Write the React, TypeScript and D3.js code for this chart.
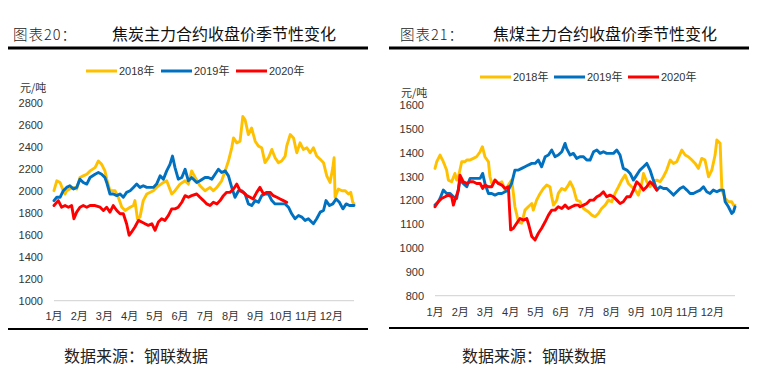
import React from 'react';
import * as d3 from 'd3';

const MONTHS = ['1月', '2月', '3月', '4月', '5月', '6月', '7月', '8月', '9月', '10月', '11月', '12月'];
const SERIES_NAMES = ['2018年', '2019年', '2020年'];
const COLORS = ['#FFC000', '#0070C0', '#FF0000'];

const COKE_TICKS = [1000, 1200, 1400, 1600, 1800, 2000, 2200, 2400, 2600, 2800];
const COAL_TICKS = [800, 900, 1000, 1100, 1200, 1300, 1400, 1500, 1600];

// [month position, price]
const COKE_2018: [number, number][] = [
  [0, 2000], [0.11, 2090], [0.24, 2075], [0.37, 2000], [0.44, 1970], [0.5, 2000], [0.63, 2015], [0.77, 2030],
  [0.9, 2015], [1.03, 2120], [1.16, 2135], [1.3, 2150], [1.43, 2180], [1.63, 2210], [1.76, 2270], [1.89, 2240],
  [2.02, 2180], [2.09, 2105], [2.22, 2000], [2.42, 2000], [2.55, 1940], [2.69, 1850], [2.82, 1820], [3.02, 1850],
  [3.15, 1865], [3.21, 1910], [3.31, 1745], [3.41, 1760], [3.54, 1910], [3.68, 1970], [3.94, 2000], [4.07, 2030],
  [4.34, 2075], [4.47, 2090], [4.67, 1970], [4.8, 2000], [5.0, 2060], [5.2, 2090], [5.33, 2060], [5.46, 2180],
  [5.6, 2120], [5.79, 2045], [5.99, 2000], [6.19, 2030], [6.32, 2000], [6.46, 2030], [6.65, 2090], [6.79, 2180],
  [6.92, 2270], [7.05, 2390], [7.12, 2480], [7.25, 2435], [7.38, 2450], [7.49, 2675], [7.58, 2645], [7.71, 2510],
  [7.84, 2570], [7.98, 2450], [8.11, 2405], [8.24, 2390], [8.37, 2255], [8.51, 2300], [8.64, 2375], [8.77, 2300],
  [8.9, 2255], [9.03, 2270], [9.17, 2315], [9.23, 2405], [9.37, 2510], [9.5, 2480], [9.63, 2345], [9.76, 2435],
  [9.89, 2375], [10.03, 2390], [10.16, 2345], [10.29, 2390], [10.42, 2315], [10.56, 2285], [10.69, 2255],
  [10.82, 2135], [10.95, 2075], [11.06, 2210], [11.11, 2300], [11.15, 1940], [11.28, 2015], [11.42, 2000],
  [11.55, 2000], [11.68, 1970], [11.77, 1985], [11.85, 1895], [11.9, 1880],
];
const COKE_2019: [number, number][] = [
  [0, 1910], [0.11, 1940], [0.24, 1940], [0.37, 2000], [0.5, 2030], [0.63, 2045], [0.77, 2015], [0.9, 2030],
  [1.03, 2105], [1.16, 2075], [1.3, 2060], [1.43, 2120], [1.63, 2150], [1.76, 2165], [1.89, 2150], [2.02, 2120],
  [2.09, 2075], [2.22, 1970], [2.35, 1970], [2.49, 1955], [2.62, 1970], [2.75, 1940], [2.88, 1985], [3.02, 2000],
  [3.15, 2030], [3.28, 2060], [3.41, 2030], [3.54, 2045], [3.68, 2030], [3.81, 2030], [3.94, 2030], [4.07, 2060],
  [4.21, 2135], [4.34, 2105], [4.47, 2180], [4.6, 2240], [4.7, 2315], [4.8, 2210], [4.93, 2105], [5.07, 2120],
  [5.2, 2195], [5.33, 2090], [5.46, 2120], [5.66, 2075], [5.79, 2090], [5.99, 2120], [6.12, 2120], [6.26, 2105],
  [6.39, 2150], [6.52, 2195], [6.65, 2165], [6.79, 2180], [6.92, 2135], [7.05, 2030], [7.18, 1940], [7.32, 2000],
  [7.45, 2000], [7.58, 1970], [7.71, 1880], [7.84, 1865], [7.98, 1910], [8.11, 1895], [8.24, 1955], [8.37, 1970],
  [8.51, 1970], [8.64, 1910], [8.77, 1880], [8.97, 1880], [9.17, 1880], [9.3, 1850], [9.43, 1790], [9.56, 1745],
  [9.7, 1775], [9.83, 1760], [9.96, 1730], [10.09, 1745], [10.22, 1715], [10.29, 1700], [10.42, 1745],
  [10.56, 1805], [10.69, 1820], [10.79, 1910], [10.93, 1865], [11.06, 1880], [11.19, 1925], [11.32, 1895],
  [11.46, 1835], [11.59, 1880], [11.72, 1865], [11.9, 1865],
];
const COKE_2020: [number, number][] = [
  [0, 1865], [0.17, 1910], [0.3, 1850], [0.44, 1865], [0.57, 1850], [0.7, 1865], [0.79, 1745], [0.9, 1805],
  [1.03, 1850], [1.16, 1865], [1.3, 1850], [1.43, 1865], [1.63, 1865], [1.83, 1850], [1.96, 1820], [2.09, 1850],
  [2.22, 1805], [2.35, 1865], [2.49, 1820], [2.62, 1790], [2.75, 1790], [2.88, 1700], [2.98, 1595], [3.08, 1625],
  [3.21, 1670], [3.35, 1730], [3.48, 1715], [3.61, 1700], [3.74, 1685], [3.88, 1700], [4.01, 1640], [4.14, 1715],
  [4.27, 1745], [4.4, 1730], [4.54, 1775], [4.67, 1835], [4.8, 1835], [4.93, 1850], [5.07, 1895], [5.2, 1955],
  [5.33, 1940], [5.46, 1955], [5.66, 1970], [5.79, 1940], [5.93, 1910], [6.06, 1880], [6.19, 1865], [6.32, 1895],
  [6.46, 1880], [6.59, 1910], [6.72, 1955], [6.85, 1985], [6.98, 1985], [7.12, 2015], [7.25, 2060], [7.38, 2000],
  [7.51, 1985], [7.65, 1955], [7.78, 1940], [7.9, 1925], [8.04, 1985], [8.17, 2030], [8.31, 1970], [8.44, 1985],
  [8.57, 1985], [8.7, 1955], [8.84, 1940], [8.97, 1925], [9.1, 1910], [9.23, 1895],
];

const COAL_2018: [number, number][] = [
  [0, 1334], [0.07, 1362], [0.2, 1390], [0.33, 1362], [0.46, 1327], [0.53, 1285], [0.66, 1278], [0.79, 1313],
  [0.86, 1285], [0.93, 1299], [1.06, 1362], [1.19, 1362], [1.26, 1369], [1.39, 1369], [1.52, 1376], [1.65, 1383],
  [1.79, 1404], [1.88, 1425], [1.98, 1383], [2.12, 1362], [2.18, 1299], [2.25, 1271], [2.38, 1285], [2.51, 1271],
  [2.65, 1278], [2.78, 1243], [2.91, 1264], [3.04, 1285], [3.11, 1229], [3.17, 1173], [3.31, 1110], [3.44, 1104],
  [3.57, 1159], [3.7, 1173], [3.84, 1187], [3.9, 1159], [4.03, 1201], [4.17, 1229], [4.3, 1250], [4.43, 1264],
  [4.56, 1257], [4.63, 1215], [4.7, 1180], [4.83, 1201], [4.89, 1229], [5.03, 1250], [5.16, 1243], [5.29, 1264],
  [5.36, 1278], [5.49, 1250], [5.62, 1201], [5.75, 1195], [5.89, 1166], [6.08, 1152], [6.22, 1138], [6.35, 1131],
  [6.48, 1145], [6.61, 1166], [6.75, 1180], [6.88, 1201], [7.01, 1194], [7.14, 1229], [7.28, 1257], [7.41, 1285],
  [7.54, 1306], [7.67, 1271], [7.8, 1257], [7.94, 1243], [8.07, 1222], [8.2, 1271], [8.27, 1313], [8.4, 1278],
  [8.53, 1257], [8.66, 1278], [8.8, 1285], [8.93, 1278], [9.06, 1299], [9.19, 1327], [9.33, 1369], [9.46, 1355],
  [9.59, 1362], [9.79, 1411], [9.92, 1390], [10.05, 1383], [10.19, 1369], [10.32, 1355], [10.45, 1334],
  [10.58, 1376], [10.71, 1369], [10.85, 1299], [10.98, 1327], [11.11, 1390], [11.18, 1453], [11.31, 1439],
  [11.38, 1243], [11.51, 1208], [11.64, 1194], [11.77, 1194], [11.84, 1180], [11.9, 1180],
];
const COAL_2019: [number, number][] = [
  [0, 1180], [0.13, 1194], [0.2, 1208], [0.33, 1243], [0.46, 1229], [0.6, 1229], [0.73, 1215], [0.86, 1208],
  [0.99, 1285], [1.12, 1271], [1.26, 1257], [1.39, 1292], [1.52, 1292], [1.65, 1292], [1.79, 1292], [1.89, 1313],
  [1.98, 1271], [2.12, 1229], [2.25, 1229], [2.38, 1222], [2.51, 1229], [2.65, 1229], [2.78, 1236], [2.91, 1243],
  [3.04, 1271], [3.17, 1327], [3.31, 1327], [3.44, 1334], [3.57, 1341], [3.7, 1348], [3.84, 1355], [3.97, 1355],
  [4.1, 1369], [4.23, 1341], [4.37, 1383], [4.5, 1390], [4.63, 1411], [4.76, 1383], [4.89, 1390], [5.03, 1404],
  [5.16, 1439], [5.22, 1418], [5.36, 1390], [5.49, 1397], [5.62, 1376], [5.75, 1383], [5.89, 1383], [6.02, 1369],
  [6.15, 1369], [6.29, 1404], [6.42, 1411], [6.55, 1397], [6.68, 1404], [6.81, 1397], [6.94, 1397], [7.08, 1397],
  [7.21, 1411], [7.34, 1390], [7.47, 1334], [7.61, 1327], [7.74, 1313], [7.87, 1285], [8.0, 1306], [8.13, 1327],
  [8.27, 1341], [8.4, 1355], [8.53, 1327], [8.66, 1285], [8.8, 1243], [8.93, 1257], [9.06, 1250], [9.19, 1250],
  [9.33, 1236], [9.46, 1222], [9.59, 1236], [9.72, 1250], [9.85, 1257], [9.99, 1243], [10.12, 1229],
  [10.25, 1229], [10.38, 1236], [10.52, 1243], [10.65, 1257], [10.78, 1236], [10.91, 1229], [11.04, 1243],
  [11.18, 1236], [11.31, 1243], [11.44, 1243], [11.51, 1194], [11.64, 1173], [11.77, 1145], [11.84, 1152],
  [11.9, 1173],
];
const COAL_2020: [number, number][] = [
  [0, 1173], [0.13, 1194], [0.26, 1208], [0.4, 1215], [0.53, 1222], [0.66, 1215], [0.73, 1180], [0.79, 1201],
  [0.93, 1243], [0.99, 1306], [1.12, 1278], [1.26, 1271], [1.39, 1278], [1.52, 1278], [1.65, 1271], [1.79, 1271],
  [1.89, 1250], [1.98, 1264], [2.12, 1257], [2.25, 1257], [2.38, 1285], [2.51, 1271], [2.65, 1264], [2.78, 1250],
  [2.91, 1257], [3.0, 1076], [3.11, 1083], [3.24, 1104], [3.37, 1124], [3.51, 1117], [3.64, 1124], [3.7, 1104],
  [3.84, 1048], [3.97, 1034], [4.1, 1062], [4.23, 1083], [4.37, 1110], [4.5, 1138], [4.63, 1159], [4.76, 1159],
  [4.89, 1173], [5.03, 1166], [5.16, 1180], [5.29, 1166], [5.42, 1173], [5.56, 1180], [5.69, 1180], [5.75, 1173],
  [5.89, 1180], [6.02, 1187], [6.15, 1201], [6.29, 1201], [6.42, 1215], [6.55, 1222], [6.68, 1236], [6.81, 1215],
  [6.94, 1222], [7.08, 1215], [7.21, 1201], [7.34, 1187], [7.47, 1194], [7.61, 1215], [7.74, 1215], [7.87, 1243],
  [8.0, 1278], [8.13, 1264], [8.27, 1243], [8.4, 1257], [8.53, 1278], [8.66, 1264], [8.8, 1243],
];

const SANS = "'Liberation Sans', 'Noto Sans CJK SC', sans-serif";
const CJK = "'Noto Sans CJK SC', sans-serif";

type PanelProps = {
  label: string;
  title: string;
  ticks: number[];
  series: [number, number][][];
  frame: { left: number; right: number; plotL: number; plotR: number; yTop: number; yBot: number };
  labelX: number;
  titleX: number;
  legendX: number;
  legendStep: number;
  legendY: number;
  unitX: number;
  unitY: number;
  tickRight: number;
  xLabelY: number;
  ruleBottomY: number;
  sourceX: number;
};

function Panel(p: PanelProps) {
  const { frame } = p;
  const x = d3.scaleLinear().domain([0, 11.9]).range([frame.plotL, frame.plotR]);
  const y = d3
    .scaleLinear()
    .domain([p.ticks[0], p.ticks[p.ticks.length - 1]])
    .range([frame.yBot, frame.yTop]);
  const line = d3
    .line<[number, number]>()
    .x((d) => x(d[0]))
    .y((d) => y(d[1]));
  return (
    <g>
      <text
        x={p.labelX}
        y={33}
        dominantBaseline="central"
        fontFamily={CJK}
        fontSize={14.5}
        fontWeight={300}
        letterSpacing={1}
        fill="#222"
      >
        {p.label}
      </text>
      <text x={p.titleX} y={33} dominantBaseline="central" fontFamily={CJK} fontSize={16} fill="#111">
        {p.title}
      </text>
      <line x1={frame.left} x2={frame.right} y1={48} y2={48} stroke="#000" strokeWidth={3} />
      {SERIES_NAMES.map((name, i) => (
        <g key={name}>
          <line
            x1={p.legendX + i * p.legendStep}
            x2={p.legendX + i * p.legendStep + 31}
            y1={p.legendY}
            y2={p.legendY}
            stroke={COLORS[i]}
            strokeWidth={3}
          />
          <text
            x={p.legendX + i * p.legendStep + 33}
            y={p.legendY}
            dominantBaseline="central"
            fontFamily={SANS}
            fontSize={11}
            fill="#333"
          >
            {name}
          </text>
        </g>
      ))}
      <text x={p.unitX} y={p.unitY} dominantBaseline="central" fontFamily={CJK} fontSize={11} fill="#333">
        元/吨
      </text>
      {p.ticks.map((t) => (
        <text
          key={t}
          x={p.tickRight}
          y={y(t)}
          textAnchor="end"
          dominantBaseline="central"
          fontFamily={SANS}
          fontSize={11}
          fill="#333"
        >
          {t}
        </text>
      ))}
      <line
        x1={frame.plotL}
        x2={frame.plotR}
        y1={y(p.ticks[0])}
        y2={y(p.ticks[0])}
        stroke="#d9d9d9"
        strokeWidth={1.2}
      />
      {MONTHS.map((m, i) => (
        <text
          key={m}
          x={x(i)}
          y={p.xLabelY}
          textAnchor="middle"
          dominantBaseline="central"
          fontFamily={SANS}
          fontSize={11}
          fill="#333"
        >
          {m}
        </text>
      ))}
      {p.series.map((s, i) => (
        <path
          key={i}
          d={line(s) || ''}
          fill="none"
          stroke={COLORS[i]}
          strokeWidth={2.9}
          strokeLinejoin="round"
          strokeLinecap="round"
        />
      ))}
      <line
        x1={frame.left}
        x2={frame.right}
        y1={p.ruleBottomY}
        y2={p.ruleBottomY}
        stroke="#000"
        strokeWidth={2.2}
      />
      <text x={p.sourceX} y={355} dominantBaseline="central" fontFamily={CJK} fontSize={16} fill="#222">
        数据来源：钢联数据
      </text>
    </g>
  );
}

export default function App() {
  return (
    <svg
      width={766}
      height={378}
      style={{ position: 'absolute', left: 0, top: 0, background: '#fff' }}
    >
      <rect width={766} height={378} fill="#fff" />
      <Panel
        label="图表20："
        title="焦炭主力合约收盘价季节性变化"
        ticks={COKE_TICKS}
        series={[COKE_2018, COKE_2019, COKE_2020]}
        frame={{ left: 8, right: 368, plotL: 54, plotR: 354, yTop: 102.7, yBot: 300.7 }}
        labelX={13}
        titleX={112}
        legendX={86}
        legendStep={75}
        legendY={71}
        unitX={20}
        unitY={87}
        tickRight={43}
        xLabelY={316}
        ruleBottomY={329}
        sourceX={64}
      />
      <Panel
        label="图表21："
        title="焦煤主力合约收盘价季节性变化"
        ticks={COAL_TICKS}
        series={[COAL_2018, COAL_2019, COAL_2020]}
        frame={{ left: 389, right: 749, plotL: 435, plotR: 735, yTop: 105, yBot: 295.7 }}
        labelX={400}
        titleX={493}
        legendX={480}
        legendStep={74}
        legendY={77}
        unitX={401}
        unitY={92}
        tickRight={424}
        xLabelY={312}
        ruleBottomY={328}
        sourceX={462}
      />
    </svg>
  );
}
